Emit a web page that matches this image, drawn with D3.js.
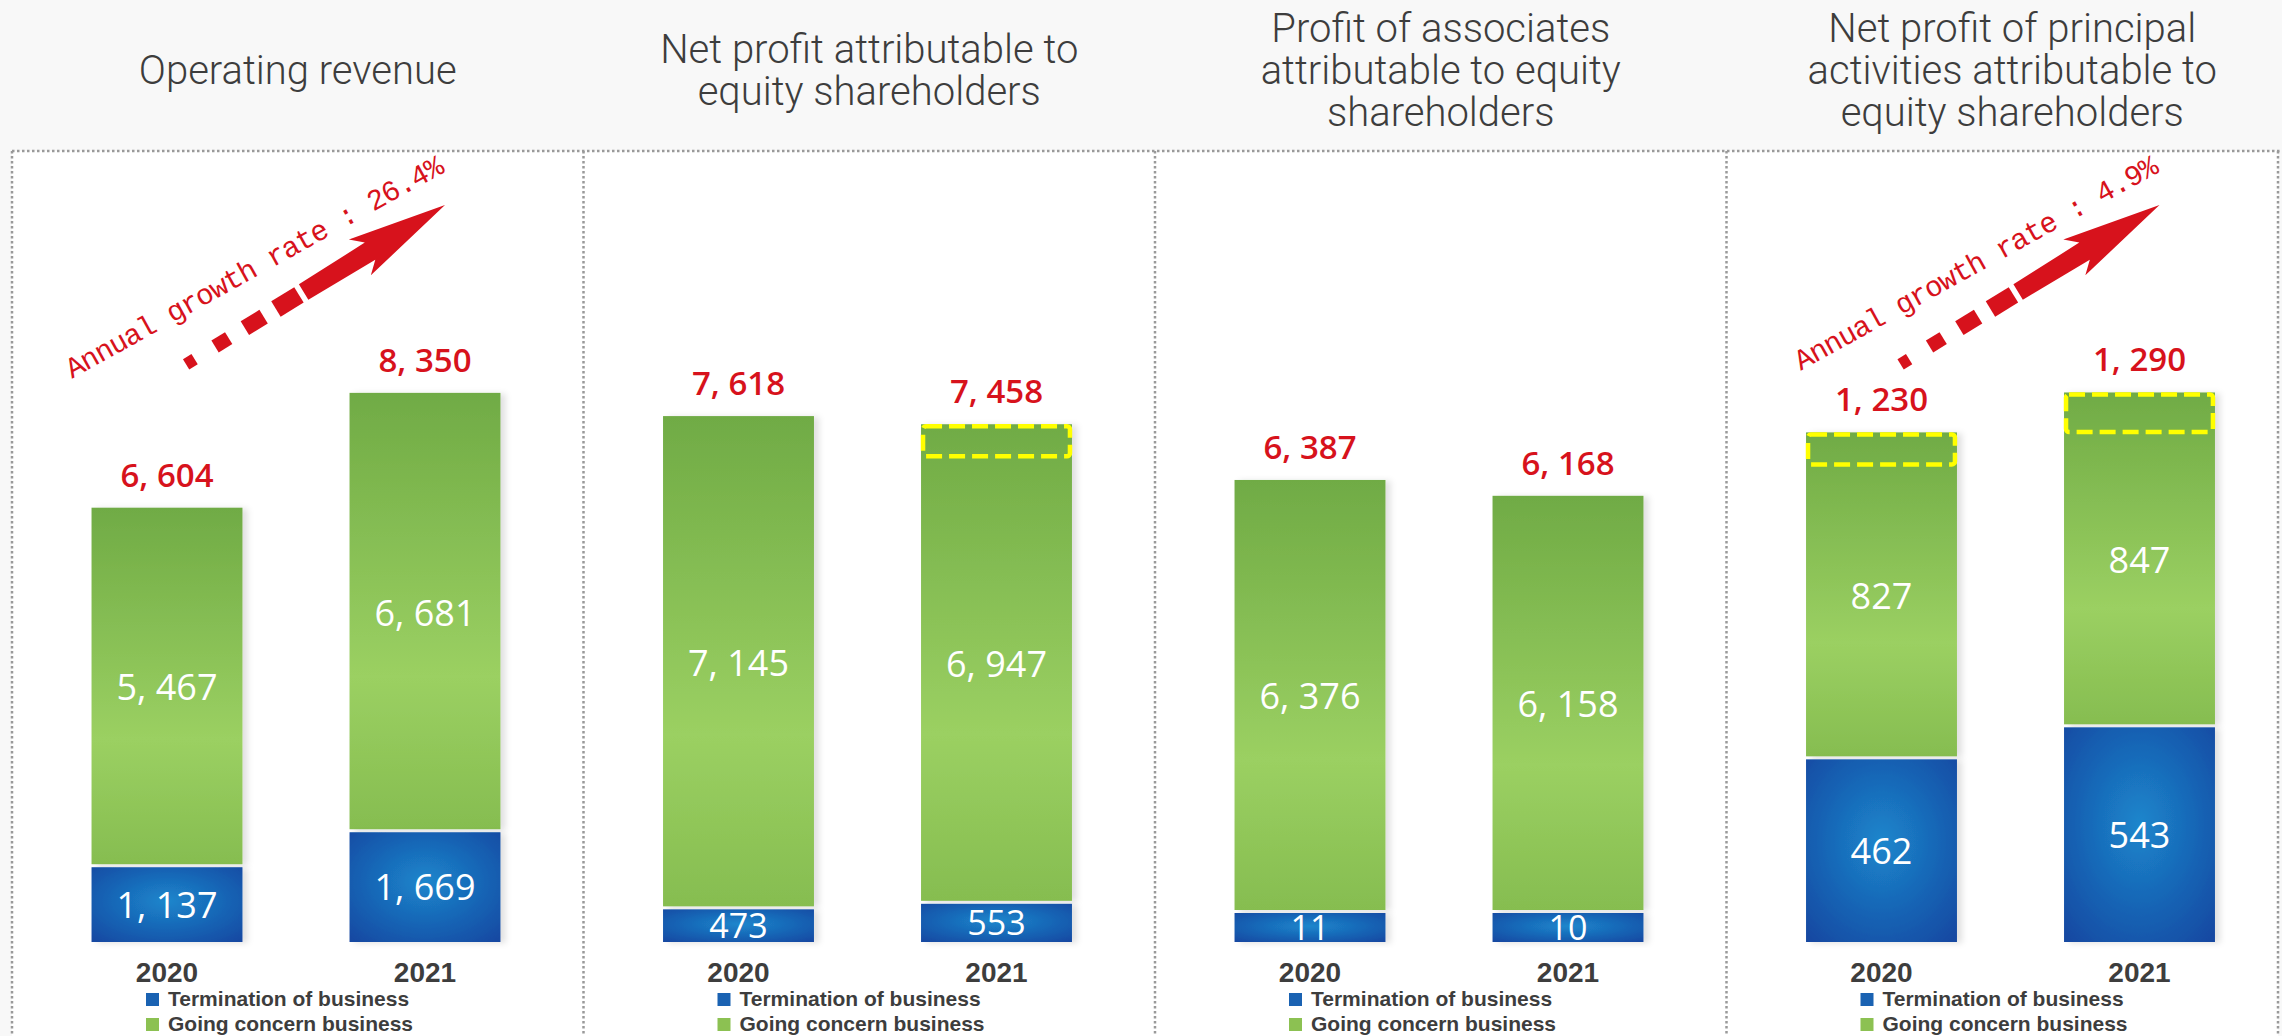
<!DOCTYPE html>
<html>
<head>
<meta charset="utf-8">
<script src="https://cdn.jsdelivr.net/npm/d3@7/dist/d3.min.js"></script>
<style>
  html, body { margin: 0; padding: 0; background: #f8f8f8; }
  svg { display: block; }
</style>
</head>
<body>
<div id="chart"></div>
<script>
const W = 2282
const H = 1036

// data
const panelTitles = [
	['Operating revenue'],
	['Net profit attributable to', 'equity shareholders'],
	['Profit of associates', 'attributable to equity', 'shareholders'],
	['Net profit of principal', 'activities attributable to', 'equity shareholders'],
]
const years = ['2020', '2021']
const termination = [[1137, 1669], [473, 553], [11, 10], [462, 543]]
const goingConcern = [[5467, 6681], [7145, 6947], [6376, 6158], [827, 847]]
const totals = [[6604, 8350], [7618, 7458], [6387, 6168], [1230, 1290]]
const growthRates = ['26.4%', null, null, '4.9%']
const axisMax = [10340, 9850, 9400, 1720]
const legendLabels = ['Termination of business', 'Going concern business']

const RED = '#d7121c'
const TEXT = '#3d3d3d'
const BASE = 942
const TOP = 262
const HEADER = 151
const NUM_FONT = '"Open Sans", "Noto Sans", sans-serif'

const fmt = v => d3.format(',')(v).replace(/,/g, ', ')

const svg = d3.select('#chart').append('svg')
	.attr('width', W)
	.attr('height', H)

const defs = svg.append('defs')

const greenGrad = defs.append('linearGradient')
	.attr('id', 'green')
	.attr('x1', 0).attr('y1', 0).attr('x2', 0).attr('y2', 1)
greenGrad.append('stop').attr('offset', '0%').attr('stop-color', '#70ab45')
greenGrad.append('stop').attr('offset', '65%').attr('stop-color', '#9bd062')
greenGrad.append('stop').attr('offset', '100%').attr('stop-color', '#86bd50')

const blueGrad = defs.append('radialGradient')
	.attr('id', 'blue')
	.attr('cx', '50%').attr('cy', '45%').attr('r', '75%')
blueGrad.append('stop').attr('offset', '0%').attr('stop-color', '#1c86cc')
blueGrad.append('stop').attr('offset', '100%').attr('stop-color', '#1346a0')

const shadow = defs.append('filter')
	.attr('id', 'shadow')
	.attr('x', '-10%').attr('y', '-10%').attr('width', '130%').attr('height', '130%')
shadow.append('feDropShadow')
	.attr('dx', 5).attr('dy', 1).attr('stdDeviation', 3)
	.attr('flood-color', '#000').attr('flood-opacity', 0.12)

// header & body backgrounds
svg.append('rect').attr('width', W).attr('height', H).attr('fill', '#f8f8f8')
svg.append('rect').attr('x', 12).attr('y', HEADER).attr('width', W - 16).attr('height', H - HEADER).attr('fill', '#fff')

const panelX = d3.scaleBand().domain(d3.range(4)).range([12, 2298])
const xBand = d3.scaleBand().domain(years).range([26, 542])
	.paddingInner(0.415).paddingOuter(0.2075)
const bw = xBand.bandwidth()

// dotted frame
const dotted = g => g.attr('stroke', '#9a9a9a').attr('stroke-width', 2.5).attr('stroke-dasharray', '2.5 2.5')
svg.append('line').attr('x1', 12).attr('x2', W).attr('y1', HEADER).attr('y2', HEADER).call(dotted)
d3.range(4).forEach(i => {
	const x = panelX(i)
	svg.append('line').attr('x1', x).attr('x2', x).attr('y1', HEADER).attr('y2', H).call(dotted)
})
svg.append('line').attr('x1', 2278).attr('x2', 2278).attr('y1', HEADER).attr('y2', H).call(dotted)

panelTitles.forEach((lines, i) => {
	const g = svg.append('g').attr('transform', `translate(${panelX(i)},0)`)
	const cx = panelX.bandwidth() / 2
	const lh = 42
	const y0 = 84 - (lines.length - 1) * lh / 2

	g.append('text')
		.attr('text-anchor', 'middle')
		.attr('font-family', 'Roboto, "Open Sans", sans-serif')
		.attr('font-weight', 300)
		.attr('font-size', 40)
		.attr('fill', TEXT)
		.selectAll('tspan').data(lines).join('tspan')
			.attr('x', cx)
			.attr('y', (d, j) => y0 + j * lh)
			.text(d => d)

	const y = d3.scaleLinear().domain([0, axisMax[i]]).range([BASE, TOP])

	const bars = years.map((yr, j) => {
		const term = termination[i][j]
		const going = goingConcern[i][j]
		const sum = term + going
		const blueH = Math.max(BASE - y(term), 29)
		return {
			yr, term, going, sum,
			total: totals[i][j],
			x: xBand(yr),
			top: y(sum),
			blueTop: BASE - blueH,
			overlapH: sum > totals[i][j] ? Math.max(y(totals[i][j]) - y(sum), 32) : 0,
		}
	})

	const bar = g.selectAll('.bar').data(bars).join('g')
		.attr('class', 'bar')

	bar.append('rect')
		.attr('x', d => d.x)
		.attr('y', d => d.top)
		.attr('width', bw)
		.attr('height', d => d.blueTop - 3 - d.top)
		.attr('fill', 'url(#green)')
		.attr('filter', 'url(#shadow)')

	bar.append('rect')
		.attr('x', d => d.x)
		.attr('y', d => d.blueTop)
		.attr('width', bw)
		.attr('height', d => BASE - d.blueTop)
		.attr('fill', 'url(#blue)')
		.attr('filter', 'url(#shadow)')

	// highlighted overlap
	bar.filter(d => d.overlapH > 0).append('rect')
		.attr('x', d => d.x + 2)
		.attr('y', d => d.top + 2)
		.attr('width', bw - 4)
		.attr('height', d => d.overlapH - 2)
		.attr('rx', 3)
		.attr('fill', 'none')
		.attr('stroke', '#ffff00')
		.attr('stroke-width', 4.5)
		.attr('stroke-dasharray', '16 7')

	// segment values
	bar.append('text')
		.attr('x', d => d.x + bw / 2)
		.attr('y', d => (d.top + d.blueTop) / 2)
		.attr('dy', '0.36em')
		.attr('text-anchor', 'middle')
		.attr('font-family', NUM_FONT)
		.attr('font-weight', 500)
		.attr('font-size', 36)
		.attr('fill', '#fff')
		.text(d => fmt(d.going))

	bar.append('text')
		.attr('x', d => d.x + bw / 2)
		.attr('y', d => (d.blueTop + BASE) / 2)
		.attr('dy', '0.36em')
		.attr('text-anchor', 'middle')
		.attr('font-family', NUM_FONT)
		.attr('font-weight', 500)
		.attr('font-size', d => (BASE - d.blueTop) < 40 ? 34 : 36)
		.attr('fill', '#fff')
		.text(d => fmt(d.term))

	// totals
	bar.append('text')
		.attr('x', d => d.x + bw / 2)
		.attr('y', d => d.top - 21)
		.attr('text-anchor', 'middle')
		.attr('font-family', NUM_FONT)
		.attr('font-weight', 600)
		.attr('font-size', 33)
		.attr('fill', RED)
		.text(d => fmt(d.total))

	// year axis
	g.selectAll('.year').data(years).join('text')
		.attr('class', 'year')
		.attr('x', d => xBand(d) + bw / 2)
		.attr('y', 982)
		.attr('text-anchor', 'middle')
		.attr('font-family', '"Liberation Sans", Arial, sans-serif')
		.attr('font-weight', 'bold')
		.attr('font-size', 28)
		.attr('fill', TEXT)
		.text(d => d)

	// legend
	const legend = g.selectAll('.legend').data(legendLabels).join('g')
		.attr('class', 'legend')
		.attr('transform', (d, j) => `translate(134,${993 + j * 25})`)
	legend.append('rect')
		.attr('width', 13).attr('height', 13)
		.attr('fill', (d, j) => j === 0 ? '#1a62b2' : '#8cc152')
	legend.append('text')
		.attr('x', 22).attr('y', 13)
		.attr('font-family', '"Liberation Sans", Arial, sans-serif')
		.attr('font-weight', 'bold')
		.attr('font-size', 21)
		.attr('fill', TEXT)
		.text(d => d)

	// growth arrow
	if (growthRates[i]) {
		const x0 = xBand(years[0]) + bw / 2 + 18
		const x1 = xBand(years[1]) + bw / 2 + 20
		const y0a = 365, y1a = 205
		const ang = Math.atan2(y1a - y0a, x1 - x0) * 180 / Math.PI
		const arrow = g.append('g')
			.attr('transform', `translate(${x1},${y1a}) rotate(${ang})`)
			.attr('fill', RED)
		const dashes = [[-299, 10, 12], [-262, 16, 14], [-224, 22, 16], [-185, 27, 18]]
		arrow.selectAll('rect').data(dashes).join('rect')
			.attr('x', d => d[0] - d[1] / 2)
			.attr('y', d => -d[2] / 2)
			.attr('width', d => d[1])
			.attr('height', d => d[2])
		arrow.append('path')
			.attr('d', 'M-166,-9 L-88,-10 L-100,-21 L0,0 L-100,21 L-88,10 L-166,9 Z')

		g.append('text')
			.attr('transform', `translate(${x1},172) rotate(-29)`)
			.attr('text-anchor', 'end')
			.attr('font-family', '"Liberation Mono", "DejaVu Sans Mono", monospace')
			.attr('font-size', 29)
			.attr('letter-spacing', -1)
			.attr('fill', RED)
			.text(`Annual growth rate : ${growthRates[i]}`)
	}
})
</script>
</body>
</html>
